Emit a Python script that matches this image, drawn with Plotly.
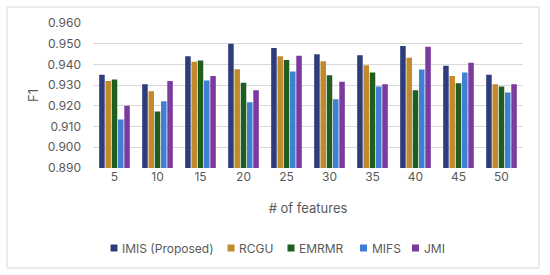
import plotly.graph_objects as go

categories = ["5", "10", "15", "20", "25", "30", "35", "40", "45", "50"]
series_names = ["IMIS (Proposed)", "RCGU", "EMRMR", "MIFS", "JMI"]
imis = [0.935, 0.9305, 0.944, 0.950, 0.948, 0.945, 0.9445, 0.949, 0.9394, 0.935]
rcgu = [0.932, 0.927, 0.9413, 0.9377, 0.944, 0.9416, 0.9397, 0.9433, 0.9344, 0.9305]
emrmr = [0.9328, 0.9173, 0.942, 0.9312, 0.9422, 0.9348, 0.9361, 0.9275, 0.9309, 0.9293]
mifs = [0.9134, 0.9222, 0.9323, 0.9217, 0.9366, 0.9232, 0.9293, 0.9376, 0.9361, 0.9264]
jmi = [0.920, 0.932, 0.9344, 0.9275, 0.9442, 0.9317, 0.9304, 0.9486, 0.9408, 0.9305]
colors = ["#2E3C7A", "#C28A2C", "#1F5E1F", "#3F7FD6", "#7B3A9E"]

# plot-area geometry (px) used to place the legend key in paper coordinates
L, R, T, B = 93, 523, 23, 168
PW, PH = R - L, B - T
def px_x(p):
    return (p - L) / PW
def px_y(p):
    return (B - p) / PH

legend_swatch_px = [110.5, 227.5, 287.5, 360, 412]

fig = go.Figure()
for name, vals, col in zip(series_names, [imis, rcgu, emrmr, mifs, jmi], colors):
    fig.add_trace(go.Bar(x=categories, y=vals, name=name, showlegend=False,
                         marker=dict(color=col, line=dict(width=0))))

shapes = [dict(type="rect", xref="paper", yref="paper", x0=px_x(7), x1=px_x(539),
               y0=px_y(268), y1=px_y(7),
               line=dict(color="#D9D9D9", width=1), fillcolor="rgba(0,0,0,0)", layer="below")]
annotations = []
for name, col, sx in zip(series_names, colors, legend_swatch_px):
    shapes.append(dict(type="rect", xref="paper", yref="paper",
                       x0=px_x(sx), x1=px_x(sx + 7), y0=px_y(251.5), y1=px_y(244.5),
                       line=dict(width=0), fillcolor=col))
    annotations.append(dict(text=name, xref="paper", yref="paper", x=px_x(sx + 9.5),
                            y=px_y(248), xanchor="left", yanchor="middle", showarrow=False,
                            font=dict(size=12, color="#595959")))

font = "Inter, Open Sans, sans-serif"
fig.update_layout(
    width=550, height=275,
    margin=dict(l=L, r=550 - R, t=T, b=275 - B, autoexpand=False),
    paper_bgcolor="white", plot_bgcolor="white",
    barmode="group", bargap=0.27, bargroupgap=0.12,
    font=dict(family=font, color="#595959", size=12),
    showlegend=False,
    xaxis=dict(title=dict(text="# of features", font=dict(size=13), standoff=20),
               tickfont=dict(size=12), showgrid=False, showline=False, ticks="",
               automargin=False),
    yaxis=dict(title=dict(text="F1", font=dict(size=13), standoff=6),
               range=[0.8899, 0.9601], dtick=0.01, tick0=0.89, tickformat=".3f",
               tickfont=dict(size=12), showgrid=True, gridcolor="#D9D9D9", gridwidth=1,
               zeroline=False, showline=False, ticks="", ticklabelstandoff=11,
               automargin=False),
    shapes=shapes,
    annotations=annotations,
)

fig.write_html("out.html", post_script="document.body.style.margin='0';",
               config={"displayModeBar": False})
